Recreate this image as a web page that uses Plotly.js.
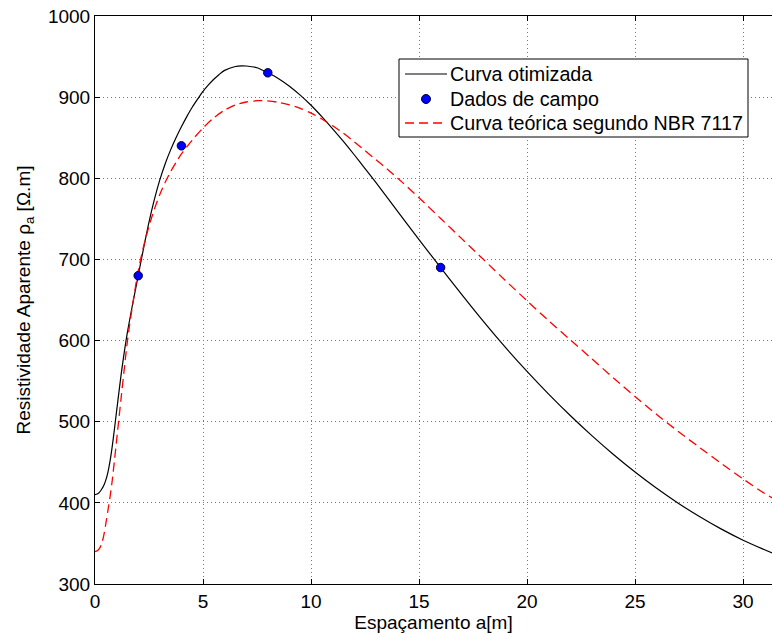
<!DOCTYPE html>
<html>
<head>
<meta charset="utf-8">
<script src="https://cdn.plot.ly/plotly-3.0.1.min.js"></script>
<style>html,body{margin:0;padding:0;background:#fff;}#chart{width:772px;height:634px;}</style>
</head>
<body>
<div id="chart"></div>
<script>
// Curva otimizada (black solid)
var otimX = [0, 0.1, 0.2, 0.3, 0.4, 0.5, 0.6, 0.7, 0.8, 0.9, 1.0, 1.25, 1.5, 1.75, 2.0, 2.25, 2.5, 2.75, 3.0, 3.25, 3.5, 3.75, 4.0, 4.25, 4.5, 4.75, 5.0, 5.25, 5.5, 5.75, 6.0, 6.5, 6.8, 7.0, 7.5, 8.0, 8.5, 9.0, 9.5, 10.0, 10.5, 11.0, 11.5, 12.0, 12.5, 13.0, 14.0, 15.0, 16.0, 17.0, 18.0, 19.0, 20.0, 21.0, 22.0, 23.0, 24.0, 25.0, 26.0, 27.0, 28.0, 29.0, 30.0, 31.4];
var otimY = [410, 410.8, 413, 416.5, 421, 428, 438, 452, 470, 491, 513, 566, 610, 646, 680, 714, 746, 774, 798, 818, 835, 850, 863.5, 876, 887.5, 897.5, 907, 915, 922, 928, 933, 937.8, 938.6, 938.4, 936.2, 930, 922.8, 913.5, 902.5, 890, 876, 861, 845.5, 829, 812, 795, 759.5, 724.5, 690, 656, 623, 591.6, 562, 534, 507.6, 482.8, 459.6, 438, 418, 399.6, 382.8, 367.6, 354, 337.6];

// Dados de campo (blue markers)
var campoX = [2, 4, 8, 16];
var campoY = [680, 840, 930, 690];

// Curva teórica segundo NBR 7117 (red dashed)
var nbrX = [0, 0.1, 0.2, 0.3, 0.4, 0.5, 0.6, 0.7, 0.8, 0.9, 1.0, 1.1, 1.2, 1.4, 1.5, 1.6, 1.8, 2.0, 2.25, 2.5, 2.75, 3.0, 3.25, 3.5, 3.75, 4.0, 4.5, 5.0, 5.5, 6.0, 6.5, 7.0, 7.5, 7.75, 8.0, 8.5, 9.0, 9.5, 10.0, 10.5, 11.0, 11.5, 12.0, 12.5, 13.0, 13.5, 14.0, 15.0, 16.0, 17.0, 18.0, 19.0, 20.0, 21.0, 22.0, 23.0, 24.0, 25.0, 26.0, 27.0, 28.0, 29.0, 30.0, 31.0, 31.4];
var nbrY = [340, 340.8, 343.5, 349, 359, 374, 391, 408, 428, 452, 477, 502, 527, 576, 599, 619, 654, 686, 716, 741, 762, 780, 795, 808, 819.5, 830, 847, 862, 874.5, 884, 890.5, 894, 895.6, 895.7, 895.3, 893.6, 890.6, 886.2, 880.3, 873, 864.8, 855.5, 845, 834, 823, 812, 800.5, 776, 750.5, 725, 699.5, 674, 649, 624.5, 601, 577.5, 554, 531, 509, 488, 468, 448.5, 429.5, 411.5, 405.5];

var xTicks = [0, 5, 10, 15, 20, 25, 30];
var yTicks = [300, 400, 500, 600, 700, 800, 900, 1000];
var seriesNames = ['Curva otimizada', 'Dados de campo', 'Curva teórica segundo NBR 7117'];

var fontFam = 'Liberation Sans, Arial, Helvetica, sans-serif';
var fs = 19;
var redDash = '9px,5px';

var traces = [
  {x: otimX, y: otimY, type: 'scatter', mode: 'lines', name: seriesNames[0],
   line: {color: '#000000', width: 1.2, shape: 'spline', smoothing: 0.8}},
  {x: nbrX, y: nbrY, type: 'scatter', mode: 'lines', name: seriesNames[2],
   line: {color: '#ff0000', width: 1.3, dash: redDash, shape: 'spline', smoothing: 0.8}},
  {x: campoX, y: campoY, type: 'scatter', mode: 'markers', name: seriesNames[1],
   marker: {color: '#0000ff', size: 8.5, line: {color: '#000033', width: 1}}}
];

// Legend box drawn in paper coordinates (plot area: 95..772 px wide, 16..584 px tall)
function px2x(px) { return (px - 95) / 677; }
function py2y(py) { return (584 - py) / 568; }
var rowY = [74, 99, 123];
var shapes = [
  {type: 'rect', xref: 'paper', yref: 'paper', x0: px2x(399), x1: px2x(748), y0: py2y(137), y1: py2y(59),
   fillcolor: '#ffffff', line: {color: '#000000', width: 1}, layer: 'above'},
  {type: 'line', xref: 'paper', yref: 'paper', x0: px2x(405), x1: px2x(447), y0: py2y(rowY[0]), y1: py2y(rowY[0]),
   line: {color: '#000000', width: 1.2}, layer: 'above'},
  {type: 'circle', xref: 'paper', yref: 'paper', x0: px2x(421.5), x1: px2x(430.5), y0: py2y(rowY[1] + 4.5), y1: py2y(rowY[1] - 4.5),
   fillcolor: '#0000ff', line: {color: '#000033', width: 1}, layer: 'above'},
  {type: 'line', xref: 'paper', yref: 'paper', x0: px2x(405), x1: px2x(447), y0: py2y(rowY[2]), y1: py2y(rowY[2]),
   line: {color: '#ff0000', width: 1.3, dash: redDash}, layer: 'above'}
];
var annotations = seriesNames.map(function (n, i) {
  return {text: n, xref: 'paper', yref: 'paper', x: px2x(448), y: py2y(rowY[i]), xanchor: 'left', yanchor: 'middle',
          showarrow: false, font: {family: fontFam, size: 19.7, color: '#000'}};
});

var layout = {
  width: 772, height: 634,
  margin: {l: 95, r: 0, t: 16, b: 50, pad: 0},
  paper_bgcolor: '#ffffff', plot_bgcolor: '#ffffff',
  font: {family: fontFam, size: fs, color: '#000'},
  showlegend: false,
  shapes: shapes,
  annotations: annotations,
  xaxis: {range: [0, 31.34], tickvals: xTicks, ticktext: xTicks.map(String),
          ticks: 'inside', ticklen: 5, tickcolor: '#000', showline: true, linecolor: '#000', linewidth: 1,
          mirror: 'allticks', showgrid: true, gridcolor: '#777', griddash: '1px,3px', gridwidth: 1,
          zeroline: false, tickfont: {size: fs},
          title: {text: 'Espaçamento a[m]', font: {size: fs}, standoff: 1}},
  yaxis: {range: [300, 1000], tickvals: yTicks, ticktext: yTicks.map(String),
          ticks: 'inside', ticklen: 5, tickcolor: '#000', showline: true, linecolor: '#000', linewidth: 1,
          mirror: false, showgrid: true, gridcolor: '#777', griddash: '1px,3px', gridwidth: 1,
          zeroline: false, tickfont: {size: fs},
          title: {text: 'Resistividade Aparente ρ<sub>a</sub> [Ω.m]', font: {size: fs}, standoff: 12}}
};

Plotly.newPlot('chart', traces, layout, {displayModeBar: false, staticPlot: true});
</script>
</body>
</html>
